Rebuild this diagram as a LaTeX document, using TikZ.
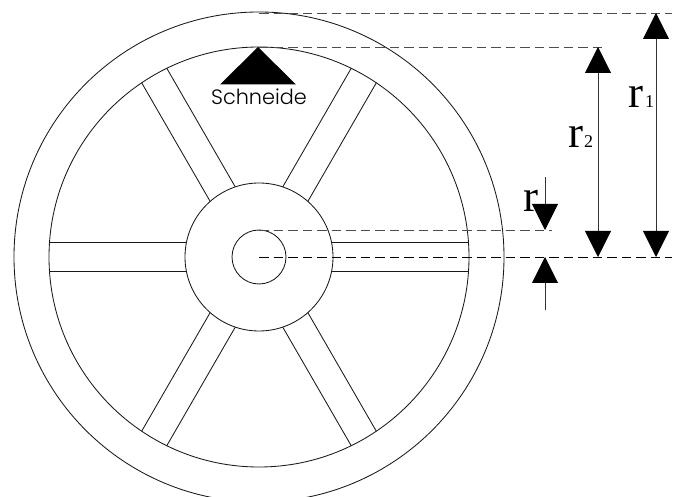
\documentclass[tikz,border=0pt]{standalone}
\usepackage{fontspec}
\setmainfont{Liberation Serif}
\newfontfamily\logofont{Poppins Light}
\usetikzlibrary{arrows.meta}
\tikzset{
    >={Triangle[width=26pt,length=26pt,color=black,fill=black]},
    outline/.style={line width=0.85pt, black!90},
    dimline/.style={line width=0.85pt, dash pattern=on 9.5pt off 5pt, black!70},
    centerline/.style={line width=0.85pt, dash pattern=on 9.5pt off 5pt, black},
    measure/.style={line width=0.85pt, black!80},
    bigr/.style={font=\fontsize{45}{45}\selectfont, inner sep=0pt, anchor=base west},
    smalln/.style={font=\fontsize{18}{18}\selectfont, inner sep=0pt, anchor=base west}
}
\begin{document}
\begin{tikzpicture}[x=1pt, y=-1pt]
    \useasboundingbox (0,0) rectangle (681,497);
    \clip (0,0) rectangle (681,497);

    % Wheel centre
    \coordinate (hub) at (259,257);

    % Rim, hub and axle
    \draw[outline] (hub) circle (245);
    \draw[outline] (hub) circle (210);
    \draw[outline] (hub) circle (74);
    \draw[outline] (hub) circle (27);

    % Spokes
    \foreach \a in {0, 60, 120, 180, 240, 300} {
        \draw[outline, shift={(hub)}, rotate=\a] (72.6,-14.5) -- (209.5,-14.5);
        \draw[outline, shift={(hub)}, rotate=\a] (72.6,14.5) -- (209.5,14.5);
    }

    % Logo
    \fill[black] (258,47) -- (296,84.5) -- (220,84.5) -- cycle;
    \node[font=\logofont\fontsize{20.8}{21}\selectfont, inner sep=0pt] (logo) at (259,97) {Schneide};

    % Reference lines
    \coordinate (top1) at (259,13);
    \coordinate (top2) at (259,47);
    \coordinate (top3) at (259,230);
    \coordinate (end1) at (672,13);
    \coordinate (end2) at (604,47);
    \coordinate (end3) at (552,230);
    \coordinate (end4) at (672,257);
    \draw[dimline] (top1) -- (end1);
    \draw[dimline] (top2) -- (end2);
    \draw[dimline] (top3) -- (end3);
    \draw[centerline] (hub) -- (end4);

    % Dimension arrows
    \coordinate (a1) at (656,13);
    \coordinate (b1) at (656,257);
    \coordinate (a2) at (598,47);
    \coordinate (b2) at (598,257);
    \coordinate (a3) at (545,177);
    \coordinate (b3) at (545,230);
    \coordinate (a4) at (545,310);
    \coordinate (b4) at (545,257);
    \draw[measure, <->] (a1) -- (b1);
    \draw[measure, <->] (a2) -- (b2);
    \draw[measure, ->] (a3) -- (b3);
    \draw[measure, ->] (a4) -- (b4);

    % Labels
    \node[bigr] (r1) at (628,108) {r};
    \node[smalln] (n1) at (645,108) {1};
    \node[bigr] (r2) at (568,148) {r};
    \node[smalln] (n2) at (584,148) {2};
    \node[bigr] (r3) at (523,212) {r};
\end{tikzpicture}
\end{document}
